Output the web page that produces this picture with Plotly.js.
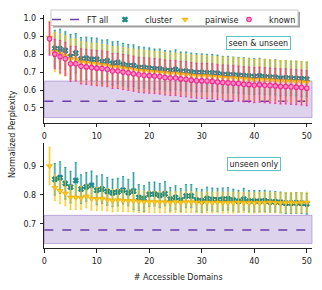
<!DOCTYPE html>
<html>
<head>
<meta charset="utf-8">
<script src="https://cdn.plot.ly/plotly-3.0.1.min.js"></script>
<style>html,body{margin:0;padding:0;background:#fff;}#chart{width:322px;height:290px;}</style>
</head>
<body>
<div id="chart"></div>
<script>
// ---------- data ----------
const domains = [1,2,3,4,5,6,7,8,9,10,11,12,13,14,15,16,17,18,19,20,21,22,23,24,25,26,27,28,29,30,31,32,33,34,35,36,37,38,39,40,41,42,43,44,45,46,47,48,49,50];

// seen & unseen (top panel)
const seenCluster = [null,0.831,0.829,0.820,0.786,0.805,0.773,0.777,0.771,0.771,0.757,0.762,0.749,0.753,0.742,0.736,0.736,0.725,0.725,0.721,0.717,0.717,0.710,0.708,0.714,0.704,0.704,0.700,0.697,0.697,0.695,0.695,0.693,0.686,0.686,0.684,0.682,0.680,0.677,0.675,0.678,0.673,0.671,0.671,0.665,0.667,0.665,0.664,0.662,0.660];
const seenClusterErr = [null,0.102,0.110,0.105,0.124,0.110,0.120,0.118,0.120,0.118,0.122,0.118,0.120,0.118,0.118,0.118,0.116,0.116,0.114,0.114,0.112,0.112,0.110,0.110,0.110,0.108,0.108,0.106,0.106,0.104,0.104,0.104,0.102,0.102,0.102,0.100,0.100,0.100,0.100,0.100,0.099,0.099,0.098,0.098,0.098,0.098,0.097,0.097,0.097,0.096];
const seenPairwise = [0.893,0.812,0.800,0.790,0.772,0.770,0.755,0.752,0.748,0.745,0.740,0.736,0.728,0.727,0.722,0.718,0.714,0.709,0.706,0.704,0.701,0.699,0.695,0.692,0.692,0.688,0.686,0.682,0.679,0.678,0.677,0.675,0.673,0.670,0.668,0.667,0.665,0.662,0.660,0.657,0.659,0.656,0.655,0.653,0.650,0.650,0.648,0.647,0.645,0.643];
const seenPairwiseErr = [0.090,0.110,0.112,0.112,0.114,0.114,0.114,0.114,0.114,0.114,0.114,0.114,0.114,0.114,0.114,0.114,0.114,0.114,0.114,0.114,0.114,0.114,0.114,0.114,0.114,0.114,0.114,0.114,0.114,0.114,0.114,0.114,0.114,0.114,0.114,0.114,0.114,0.114,0.114,0.114,0.114,0.114,0.114,0.114,0.114,0.114,0.114,0.114,0.114,0.114];
const seenKnown = [0.886,0.800,0.786,0.774,0.746,0.746,0.732,0.729,0.725,0.722,0.720,0.716,0.706,0.706,0.700,0.696,0.691,0.685,0.682,0.680,0.678,0.675,0.670,0.667,0.667,0.662,0.660,0.655,0.652,0.651,0.650,0.648,0.645,0.642,0.640,0.638,0.636,0.632,0.630,0.627,0.630,0.627,0.625,0.623,0.620,0.620,0.618,0.616,0.614,0.610];
const seenKnownErr = [0.092,0.082,0.090,0.092,0.098,0.096,0.098,0.098,0.098,0.098,0.098,0.098,0.098,0.098,0.098,0.098,0.098,0.098,0.098,0.098,0.098,0.098,0.098,0.098,0.098,0.098,0.098,0.098,0.098,0.098,0.098,0.098,0.098,0.098,0.098,0.098,0.098,0.098,0.098,0.098,0.098,0.098,0.098,0.098,0.098,0.098,0.098,0.098,0.098,0.098];

// unseen only (bottom panel)
const unseenCluster = [null,0.854,0.860,0.840,0.827,0.850,0.820,0.828,0.833,0.816,0.820,0.812,0.807,0.810,0.816,0.808,0.813,0.791,0.787,0.802,0.803,0.798,0.804,0.785,0.791,0.782,0.796,0.796,0.782,0.779,0.787,0.784,0.783,0.785,0.786,0.782,0.778,0.785,0.778,0.778,0.778,0.779,0.776,0.776,0.774,0.771,0.771,0.772,0.771,0.769];
const unseenClusterErr = [null,0.055,0.055,0.055,0.055,0.062,0.050,0.050,0.050,0.050,0.050,0.048,0.048,0.048,0.048,0.046,0.064,0.045,0.045,0.042,0.042,0.042,0.042,0.041,0.041,0.040,0.040,0.040,0.040,0.040,0.040,0.040,0.040,0.039,0.039,0.038,0.038,0.038,0.037,0.037,0.037,0.037,0.037,0.036,0.036,0.036,0.036,0.036,0.036,0.036];
const unseenPairwise = [0.900,0.825,0.814,0.805,0.791,0.791,0.790,0.795,0.787,0.786,0.787,0.783,0.780,0.782,0.780,0.779,0.779,0.777,0.776,0.776,0.775,0.775,0.775,0.774,0.775,0.774,0.775,0.775,0.774,0.773,0.774,0.773,0.774,0.773,0.773,0.773,0.774,0.773,0.773,0.772,0.773,0.773,0.774,0.773,0.772,0.773,0.773,0.772,0.773,0.774];
const unseenPairwiseErr = [0.065,0.045,0.045,0.043,0.042,0.042,0.040,0.040,0.040,0.040,0.040,0.039,0.039,0.039,0.038,0.038,0.038,0.038,0.037,0.037,0.037,0.037,0.037,0.036,0.036,0.036,0.036,0.036,0.036,0.036,0.036,0.036,0.036,0.036,0.036,0.036,0.035,0.035,0.035,0.035,0.035,0.035,0.035,0.035,0.035,0.035,0.035,0.035,0.035,0.035];

// FT all reference (low, mean, high) per panel
const ftSeen = {low: 0.447, mean: 0.537, high: 0.650};
const ftUnseen = {low: 0.631, mean: 0.678, high: 0.729};

const seriesNames = ['FT all', 'cluster', 'pairwise', 'known'];
const panelLabels = ['seen & unseen', 'unseen only'];
const xTicks = [0,10,20,30,40,50];

// ---------- styles ----------
const C = {
  ft: '#6a3fa8', ftFill: 'rgba(160,130,200,0.35)', ftEdge: 'rgba(150,120,195,0.55)',
  cluster: '#17908f', clusterLight: 'rgba(23,150,150,0.35)',
  pairwise: '#f7c81a', pairwiseLight: 'rgba(250,210,40,0.45)', pairwiseEdge: '#f0a800',
  known: '#f5288e', knownLight: 'rgba(250,80,160,0.4)', knownFill: '#ff8cc4'
};
const FONT = 'DejaVu Sans, Liberation Sans, sans-serif';

function errTraces(y, err, color, light, xa, ya) {
  return {
    x: domains, y: y, xaxis: xa, yaxis: ya, type: 'scatter', mode: 'markers',
    marker: {opacity: 0, size: 1}, showlegend: false, hoverinfo: 'skip',
    error_y: {type: 'data', array: err, visible: true, color: light, thickness: 2.5, width: 0}
  };
}
function mainTrace(y, err, name, color, marker, xa, ya, showlegend, legendRef) {
  return {
    x: domains, y: y, xaxis: xa, yaxis: ya, type: 'scatter', mode: 'markers', name: name,
    legendgroup: name, showlegend: showlegend, legend: legendRef || 'legend', marker: marker,
    error_y: {type: 'data', array: err, visible: true, color: color, thickness: 0.8, width: 1}
  };
}

const mkCluster = {symbol: 'x', size: 5, color: C.cluster, line: {color: '#0d6d6d', width: 0.6}};
const mkPair = {symbol: 'triangle-down', size: 5.5, color: C.pairwise, line: {color: C.pairwiseEdge, width: 0.6}};
const mkKnown = {symbol: 'circle', size: 4.5, color: C.knownFill, line: {color: C.known, width: 1.1}};

const data = [
  // legend-only FT all entry
  {x: [null], y: [null], type: 'scatter', mode: 'lines', name: seriesNames[0], legend: 'legend',
   line: {color: C.ft, dash: 'dash', width: 1.5}, xaxis: 'x', yaxis: 'y'},
  // top panel
  errTraces(seenCluster, seenClusterErr, C.cluster, C.clusterLight, 'x', 'y'),
  errTraces(seenPairwise, seenPairwiseErr, C.pairwise, C.pairwiseLight, 'x', 'y'),
  errTraces(seenKnown, seenKnownErr, C.known, C.knownLight, 'x', 'y'),
  mainTrace(seenCluster, seenClusterErr, seriesNames[1], C.cluster, mkCluster, 'x', 'y', true, 'legend2'),
  mainTrace(seenPairwise, seenPairwiseErr, seriesNames[2], C.pairwise, mkPair, 'x', 'y', true, 'legend3'),
  mainTrace(seenKnown, seenKnownErr, seriesNames[3], C.known, mkKnown, 'x', 'y', true, 'legend4'),
  // bottom panel
  errTraces(unseenCluster, unseenClusterErr, C.cluster, C.clusterLight, 'x2', 'y2'),
  errTraces(unseenPairwise, unseenPairwiseErr, C.pairwise, C.pairwiseLight, 'x2', 'y2'),
  mainTrace(unseenCluster, unseenClusterErr, seriesNames[1], C.cluster, mkCluster, 'x2', 'y2', false, 'legend2'),
  mainTrace(unseenPairwise, unseenPairwiseErr, seriesNames[2], C.pairwise, mkPair, 'x2', 'y2', false, 'legend3')
];

function bandShapes(ft, xa, ya) {
  return [
    {type: 'rect', xref: xa + ' domain', yref: ya, x0: 0, x1: 1, y0: ft.low, y1: ft.high,
     fillcolor: C.ftFill, line: {color: C.ftEdge, width: 1}, layer: 'below'},
    {type: 'line', xref: xa + ' domain', yref: ya, x0: 0, x1: 1, y0: ft.mean, y1: ft.mean,
     line: {color: C.ft, width: 1.5, dash: 'dash'}, layer: 'below'}
  ];
}

const axisCommon = {
  showgrid: false, zeroline: false, showline: true, linecolor: '#222', linewidth: 1,
  ticks: 'outside', ticklen: 3.5, tickwidth: 1, tickcolor: '#222', ticklabelstandoff: 2,
  tickfont: {family: FONT, size: 8, color: '#222'}, mirror: false
};

const W = 322, H = 290;
const px = v => v / W, py = v => 1 - v / H;

const legendCommon = {
  orientation: 'h', xanchor: 'left', yanchor: 'top', y: py(5),
  bgcolor: 'rgba(0,0,0,0)', borderwidth: 0,
  font: {family: FONT, size: 8, color: '#222'}, itemwidth: 30, tracegroupgap: 0
};

const layout = {
  width: W, height: H, margin: {l: 0, r: 0, t: 0, b: 0},
  paper_bgcolor: '#fff', plot_bgcolor: 'rgba(0,0,0,0)',
  font: {family: FONT, size: 8, color: '#222'},
  xaxis: Object.assign({}, axisCommon, {domain: [px(44.3), px(312)], range: [0, 51], tickvals: xTicks, anchor: 'y'}),
  yaxis: Object.assign({}, axisCommon, {domain: [py(122.7), py(15)], range: [0.418, 1.018], tickvals: [0.5,0.6,0.7,0.8,0.9,1.0], tickformat: '.1f', anchor: 'x'}),
  xaxis2: Object.assign({}, axisCommon, {domain: [px(44.3), px(312)], range: [0, 51], tickvals: xTicks, anchor: 'y2',
    title: {text: '# Accessible Domains', font: {family: FONT, size: 8, color: '#222'}, standoff: 8}}),
  yaxis2: Object.assign({}, axisCommon, {domain: [py(248.3), py(143.3)], range: [0.6146, 0.979], tickvals: [0.7,0.8,0.9], tickformat: '.1f', anchor: 'x2'}),
  shapes: [].concat(
    bandShapes(ftSeen, 'x', 'y'),
    bandShapes(ftUnseen, 'x2', 'y2'),
    [
      {type: 'rect', xref: 'paper', yref: 'paper', x0: px(53), x1: px(300), y0: py(27.5), y1: py(12),
       fillcolor: '#a0a0a0', line: {width: 0}, layer: 'above'},
      {type: 'rect', xref: 'paper', yref: 'paper', x0: px(51), x1: px(298), y0: py(25.5), y1: py(10),
       fillcolor: '#ffffff', line: {color: '#c8c8c8', width: 1}, layer: 'above'}
    ]
  ),
  legend: Object.assign({}, legendCommon, {x: px(47)}),
  legend2: Object.assign({}, legendCommon, {x: px(105)}),
  legend3: Object.assign({}, legendCommon, {x: px(165)}),
  legend4: Object.assign({}, legendCommon, {x: px(229)}),
  annotations: [
    {text: panelLabels[0], xref: 'paper', yref: 'paper', x: px(258), y: py(42.5), xanchor: 'center', yanchor: 'middle', showarrow: false,
     font: {family: FONT, size: 8, color: '#222'}, bgcolor: '#fff', bordercolor: '#5cc6c6', borderwidth: 1, borderpad: 1.5},
    {text: panelLabels[1], xref: 'paper', yref: 'paper', x: px(253.5), y: py(164), xanchor: 'center', yanchor: 'middle', showarrow: false,
     font: {family: FONT, size: 8, color: '#222'}, bgcolor: '#fff', bordercolor: '#5cc6c6', borderwidth: 1, borderpad: 1.5},
    {text: 'Normalized Perplexity', xref: 'paper', yref: 'paper', x: px(12), y: py(134), xanchor: 'center', yanchor: 'middle', showarrow: false,
     textangle: -90, font: {family: FONT, size: 8, color: '#222'}}
  ]
};

Plotly.newPlot('chart', data, layout, {displayModeBar: false, staticPlot: true});
</script>
</body>
</html>
